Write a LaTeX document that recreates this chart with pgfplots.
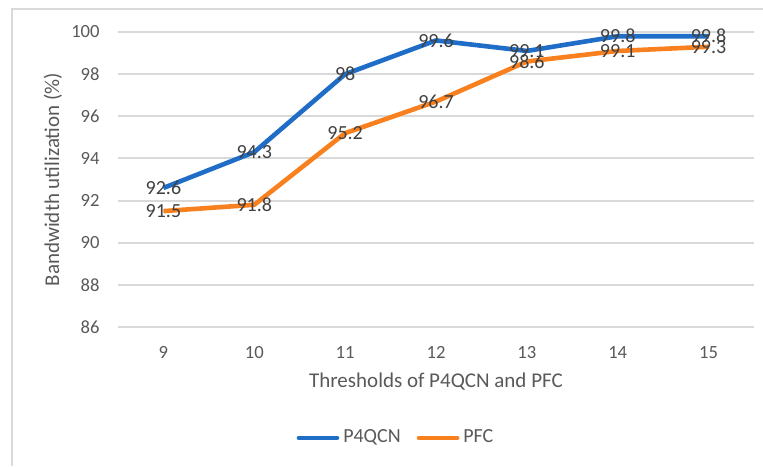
\documentclass[border=0pt]{standalone}
\usepackage{pgfplots}
\pgfplotsset{compat=1.18}
\usepackage{fontspec}
\setmainfont{Carlito}
\definecolor{pblue}{HTML}{1F6DC6}
\definecolor{porange}{HTML}{F8801F}
\definecolor{gridc}{HTML}{D9D9D9}
\definecolor{txt}{HTML}{595959}
\definecolor{lbl}{HTML}{404040}
\begin{document}
\begin{tikzpicture}
\path[use as bounding box] (-59pt,-69.5pt) rectangle (322.5pt,163.5pt);
\draw[gridc, line width=0.6pt] (-53pt,-69.5pt) -- (-53pt,159pt) -- (322.5pt,159pt);
\begin{axis}[
  at={(0,0)}, anchor=south west,
  scale only axis, width=318pt, height=147.5pt,
  xmin=8.5, xmax=15.5, ymin=86, ymax=100,
  xtick={9,10,11,12,13,14,15}, ytick={86,88,...,100},
  axis line style={draw=none}, major tick length=0pt,
  ymajorgrids, grid style={gridc, line width=1pt},
  /pgf/number format/assume math mode=true,
  tick label style={font=\fontsize{9.3}{11}\selectfont, text=txt, inner sep=0pt},
  yticklabel style={anchor=east, xshift=-9pt},
  xticklabel style={anchor=north, yshift=-9.5pt},
  xlabel={Thresholds of P4QCN and PFC},
  ylabel={Bandwidth utilization (\%)},
  every axis x label/.style={at={(axis description cs:0.5,0)}, anchor=center, yshift=-27.5pt, font=\fontsize{10.5}{12}\selectfont, text=txt},
  every axis y label/.style={at={(axis description cs:-0.1022,0.5)}, anchor=center, rotate=90, font=\fontsize{10.5}{12}\selectfont, text=txt},
  legend columns=2,
  legend style={at={(axis description cs:0.4387,-0.376)}, anchor=center, draw=none, fill=none,
    font=\fontsize{10}{12}\selectfont, text=txt, inner sep=0pt,
    nodes={inner sep=2pt},
    /tikz/every even column/.append style={column sep=6pt}},
  legend image code/.code={\draw[#1, line width=2.3pt, line cap=round] (0pt,0pt) -- (19pt,0pt);},
  point meta=explicit symbolic,
  nodes near coords,
  every node near coord/.append style={anchor=center, font=\fontsize{10}{12}\selectfont, text=lbl, inner sep=0pt},
]
\addplot[pblue, line width=2.3pt, line join=round, mark=none] coordinates {
  (9,92.6) [92.6] (10,94.3) [94.3] (11,98) [98] (12,99.6) [99.6]
  (13,99.1) [99.1] (14,99.8) [99.8] (15,99.8) [99.8]
};
\addlegendentry{P4QCN}
\addplot[porange, line width=2.3pt, line join=round, mark=none] coordinates {
  (9,91.5) [91.5] (10,91.8) [91.8] (11,95.2) [95.2] (12,96.7) [96.7]
  (13,98.6) [98.6] (14,99.1) [99.1] (15,99.3) [99.3]
};
\addlegendentry{PFC}
\end{axis}
\end{tikzpicture}
\end{document}
